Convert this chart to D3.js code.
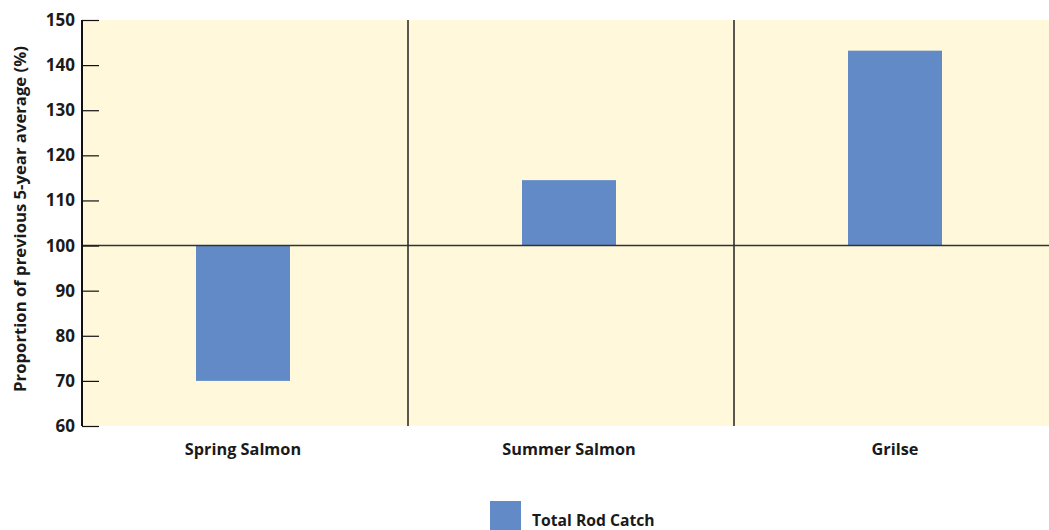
<!DOCTYPE html>
<html>
<head>
<meta charset="utf-8">
<script src="https://cdn.jsdelivr.net/npm/d3@7"></script>
<style>
  html, body { margin: 0; padding: 0; background: #ffffff; }
  svg { display: block; }
  text { font-family: "Open Sans", "Noto Sans", sans-serif; font-weight: bold; fill: #1a1a1a; }
</style>
</head>
<body>
<svg id="chart" width="1049" height="530"></svg>
<script>
const categories = ["Spring Salmon", "Summer Salmon", "Grilse"];
const seriesName = "Total Rod Catch";
const values = [70, 114.5, 143.2];
const baseline = 100;
const yTicks = [60, 70, 80, 90, 100, 110, 120, 130, 140, 150];
const yDomain = [60, 150];
const yTitle = "Proportion of previous 5-year average (%)";

const FONT = "'Open Sans', 'Noto Sans', sans-serif";
const svg = d3.select("#chart");
const W = 1049, H = 530;
const m = { left: 82, top: 20, right: -11, bottom: 104 };
const plotRight = W - m.right; // extends past the viewport edge
const plotBottom = H - m.bottom;

const x = d3.scaleBand().domain(categories).range([m.left, plotRight]).paddingInner(0).paddingOuter(0);
const y = d3.scaleLinear().domain(yDomain).range([plotBottom, m.top]);

// background
svg.append("rect")
  .attr("x", m.left).attr("y", m.top)
  .attr("width", plotRight - m.left).attr("height", plotBottom - m.top)
  .attr("fill", "#fff8db");

// bars
const barW = 94;
svg.append("g").selectAll("rect").data(categories).join("rect")
  .attr("x", (d) => x(d) + x.bandwidth() / 2 - barW / 2 - 2)
  .attr("width", barW)
  .attr("y", (d, i) => y(Math.max(values[i], baseline)))
  .attr("height", (d, i) => Math.abs(y(values[i]) - y(baseline)))
  .attr("fill", "#628ac7");

// category separators
svg.append("g").selectAll("line").data(categories.slice(1)).join("line")
  .attr("x1", (d) => x(d)).attr("x2", (d) => x(d))
  .attr("y1", m.top).attr("y2", plotBottom)
  .attr("stroke", "#222").attr("stroke-width", 1.5);

// baseline at 100
svg.append("line")
  .attr("x1", m.left).attr("x2", plotRight)
  .attr("y1", y(baseline)).attr("y2", y(baseline))
  .attr("stroke", "#333").attr("stroke-width", 1.5);

// y axis with inward ticks
const yAxis = d3.axisLeft(y).tickValues(yTicks).tickSize(-17).tickPadding(7).tickFormat(d3.format("d"));
const gy = svg.append("g").attr("transform", `translate(${m.left},0)`).call(yAxis);
gy.select(".domain").attr("stroke", "#111").attr("stroke-width", 2).attr("d", `M0,${m.top}V${plotBottom}`);
gy.selectAll(".tick line").attr("stroke", "#111").attr("stroke-width", 1.2);
gy.selectAll(".tick text").style("font-size", "17px").attr("fill", "#1a1a1a")
  .style("font-family", FONT).style("font-weight", "bold");

// category labels
svg.append("g").selectAll("text").data(categories).join("text")
  .attr("x", (d) => x(d) + x.bandwidth() / 2 - 2)
  .attr("y", 455)
  .attr("text-anchor", "middle")
  .style("font-size", "16.3px")
  .text((d) => d);

// y title
svg.append("text")
  .attr("transform", `translate(26,219) rotate(-90)`)
  .attr("text-anchor", "middle")
  .style("font-size", "16.7px")
  .text(yTitle);

// legend
svg.append("rect").attr("x", 490).attr("y", 501).attr("width", 31).attr("height", 30).attr("fill", "#628ac7");
svg.append("text").attr("x", 532).attr("y", 526).style("font-size", "15.7px").text(seriesName);
</script>
</body>
</html>
